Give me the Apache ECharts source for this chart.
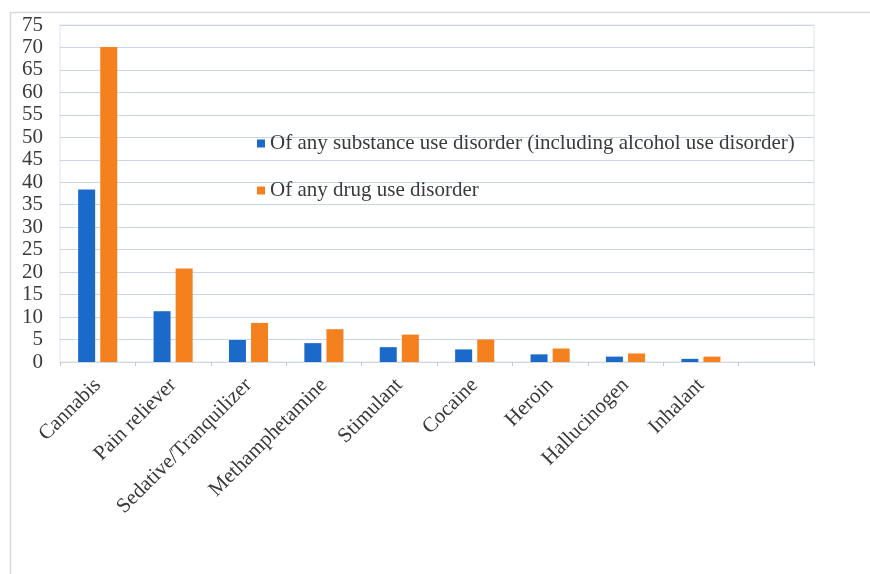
<!DOCTYPE html>
<html>
<head>
<meta charset="utf-8">
<script src="https://cdn.jsdelivr.net/npm/echarts@6/dist/echarts.min.js"></script>
<style>
  html, body { margin: 0; padding: 0; background: #fff; }
  #chart { width: 870px; height: 574px; }
</style>
</head>
<body>
<div id="chart"></div>
<script>
// categories (last slot is empty in the original chart)
const categories = ['Cannabis', 'Pain reliever', 'Sedative/Tranquilizer', 'Methamphetamine', 'Stimulant', 'Cocaine', 'Heroin', 'Hallucinogen', 'Inhalant', ''];
const seriesNames = [
  'Of any substance use disorder (including alcohol use disorder)',
  'Of any drug use disorder'
];
const anySubstance = [38.4, 11.3, 4.9, 4.2, 3.3, 2.8, 1.7, 1.2, 0.7];
const anyDrug = [70.1, 20.8, 8.7, 7.3, 6.1, 5.0, 3.0, 1.9, 1.2];

const serif = '"Liberation Serif", "DejaVu Serif", serif';

const chart = echarts.init(document.getElementById('chart'));
chart.setOption({
  animation: false,
  backgroundColor: '#fff',
  graphic: [{
    type: 'rect',
    shape: { x: 10.5, y: 12.5, width: 900, height: 600 },
    style: { fill: 'none', stroke: '#d9d9d9', lineWidth: 1.5 },
    silent: true
  }],
  grid: {
    left: 60, right: 56, top: 25, bottom: 212,
    show: true, borderColor: '#dde4ef', borderWidth: 1
  },
  legend: {
    orient: 'vertical',
    left: 252, top: 128,
    itemGap: 26,
    itemWidth: 8, itemHeight: 8,
    icon: 'rect',
    textStyle: { fontFamily: serif, fontSize: 21, color: '#3a3a3a' },
    data: seriesNames
  },
  xAxis: {
    type: 'category',
    data: categories,
    axisLine: { lineStyle: { color: '#d0d7e3' } },
    axisTick: { show: true, length: 4, lineStyle: { color: '#c8c8c8' } },
    axisLabel: {
      interval: 0, rotate: 45, margin: 20,
      fontFamily: serif, fontSize: 21, color: '#3a3a3a'
    }
  },
  yAxis: {
    type: 'value',
    min: 0, max: 75, interval: 5,
    axisLine: { show: false },
    axisTick: { show: false },
    axisLabel: { fontFamily: serif, fontSize: 21, color: '#3a3a3a', margin: 17 },
    splitLine: { lineStyle: { color: '#c9d5e8', width: 1 } }
  },
  series: [{
    name: seriesNames[0],
    type: 'bar',
    data: anySubstance,
    barWidth: 17,
    barGap: '30%',
    itemStyle: { color: '#1b6ac9' }
  }, {
    name: seriesNames[1],
    type: 'bar',
    data: anyDrug,
    barWidth: 17,
    itemStyle: { color: '#f5801e' }
  }]
});
</script>
</body>
</html>
